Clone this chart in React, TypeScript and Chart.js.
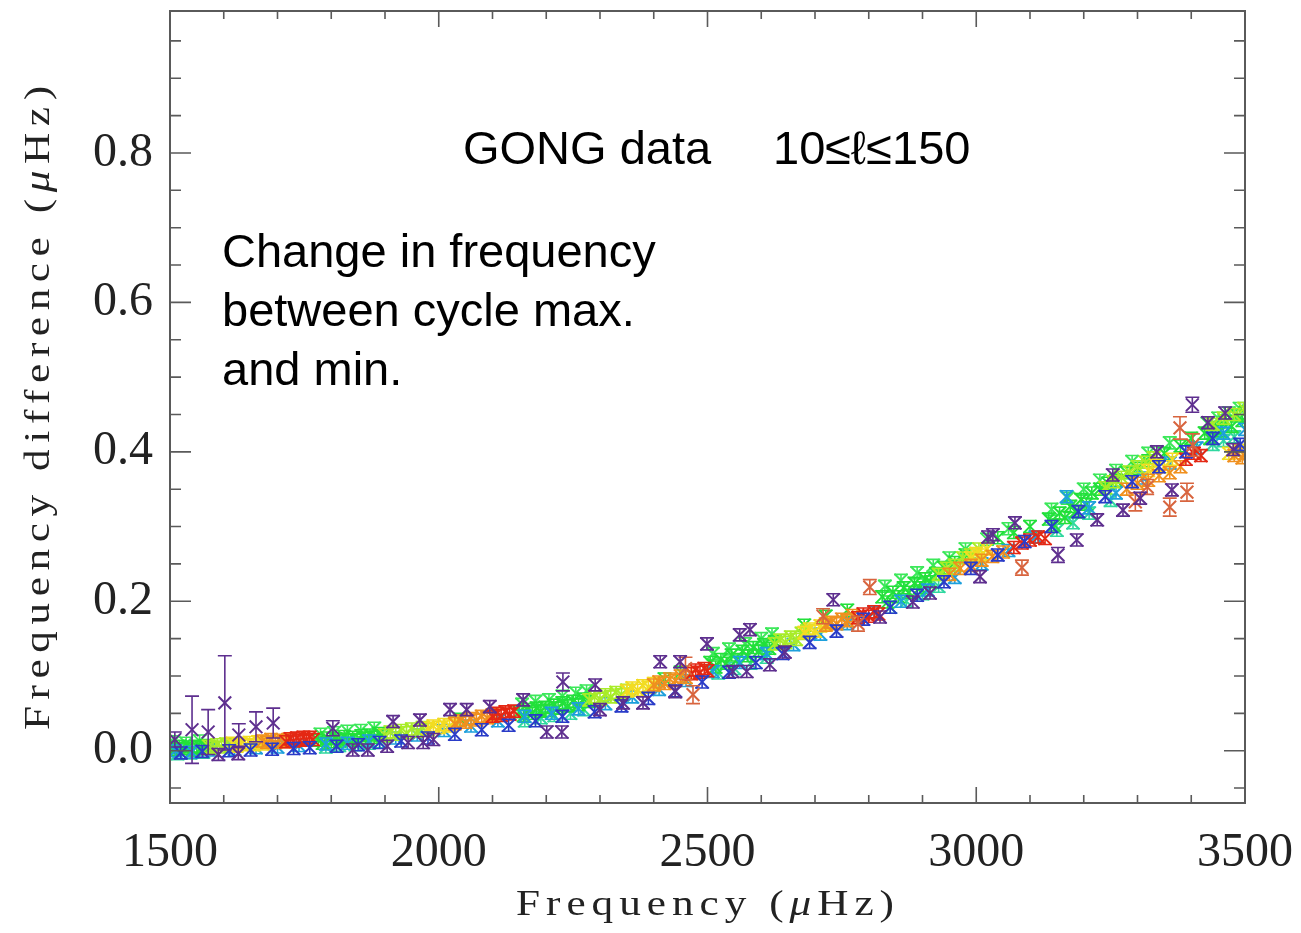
import React, { useEffect, useRef } from "react";
import { Chart, registerables } from "chart.js";
Chart.register(...registerables);

// ---------- axis ticks ----------
const X_MAJOR = [1500, 2000, 2500, 3000, 3500];
const X_MINOR = [1600, 1700, 1800, 1900, 2100, 2200, 2300, 2400, 2600, 2700, 2800, 2900, 3100, 3200, 3300, 3400];
const Y_MAJOR = [0, 0.2, 0.4, 0.6, 0.8];
const Y_MINOR = [-0.05, 0.05, 0.1, 0.15, 0.25, 0.3, 0.35, 0.45, 0.5, 0.55, 0.65, 0.7, 0.75, 0.85, 0.9, 0.95];

// ---------- data (frequency in µHz, frequency difference in µHz) ----------
const GREEN_F = [1502,1510,1518,1526,1534,1542,1550,1558,1566,1574, 1776,1784,1792,1800,1808,1816,1824,1832,1840,1848,1856,1864,1872,1880,1888,1896, 2040, 2150,2158,2166,2174,2182,2190,2198,2206,2214,2222,2230,2240,2250,2260,2270,2280, 2420,2450, 2505,2515,2525,2535,2545,2555,2565,2575,2585,2595,2605,2615,2625, 2680,2720,2760, 2825,2835,2845,2855,2865,2875,2885,2895,2905,2915,2925,2940,2960,2980, 3040,3070,3100, 3135,3145,3155,3165,3175,3185,3195,3205,3215,3230,3245,3260,3280,3300,3320, 3350,3380,3400, 3425,3435,3445,3455,3465,3475,3485,3495,3500];
const GREEN_V = [.004,.002,.006,.003,.005,.001,.006,.004,.007,.003, .014,.010,.017,.012,.016,.013,.019,.015,.018,.014,.020,.017,.021,.018,.023,.020, .042, .052,.047,.055,.050,.057,.053,.058,.054,.061,.057,.064,.060,.066,.062,.069,.066, .096,.105, .118,.112,.122,.117,.128,.122,.133,.127,.138,.133,.142,.137,.146, .168,.180,.188, .206,.199,.212,.206,.218,.212,.224,.218,.230,.226,.237,.245,.252,.262, .285,.292,.300, .310,.302,.318,.312,.327,.320,.336,.330,.345,.350,.358,.362,.372,.378,.388, .398,.408,.418, .425,.418,.432,.428,.440,.434,.448,.442,.452];

const GREEN_HI_F = [1506,1530,1555, 1780,1805,1830,1855,1880, 2155,2180,2205,2230,2255,2275, 2510,2540,2570,2600,2620, 2830,2860,2890,2920,2950,2980,3020,3060, 3140,3170,3200,3230,3260,3290,3320,3360, 3430,3450,3470,3490];
const GREEN_HI_V = [.012,.010,.013, .022,.024,.026,.027,.030, .062,.066,.068,.073,.077,.080, .130,.136,.143,.150,.156, .220,.228,.238,.248,.258,.270,.283,.297, .323,.338,.350,.362,.375,.387,.398,.412, .438,.445,.452,.458];

const GREEN_LO_F = [1514,1538,1562, 1790,1815,1845,1870,1890, 2160,2190,2215,2245,2270, 2520,2550,2580,2610, 2840,2870,2900,2930, 3150,3180,3210,3250, 3440,3460,3480];
const GREEN_LO_V = [-.004,-.003,-.002, .005,.007,.008,.010,.012, .040,.044,.047,.050,.055, .104,.110,.117,.125, .192,.200,.210,.220, .295,.305,.318,.335, .410,.415,.420];

const LIME_F = [1572,1580,1588,1596,1604,1612,1620, 1900,1910,1920,1930,1940,1950,1960,1970,1980, 2280,2290,2300,2310,2320,2330,2340,2350, 2625,2635,2645,2655,2665,2675,2685, 2930,2945,2960,2975,2990,3005, 3240,3255,3270,3285,3300,3315,3330, 3440,3460,3480,3498];
const LIME_V = [.006,.004,.008,.005,.009,.006,.008, .021,.025,.022,.027,.024,.029,.026,.031,.028, .068,.072,.069,.075,.072,.078,.075,.081, .143,.148,.145,.152,.149,.157,.160, .236,.244,.248,.258,.262,.270, .352,.360,.366,.373,.380,.386,.392, .437,.445,.450,.458];

const YELLOW_F = [1616,1624,1632,1640,1648,1656,1664,1672,1680, 1980,1990,2000,2010,2020,2030, 2350,2360,2370,2380,2390,2400, 2680,2690,2700,2710,2720, 2990,3000,3010,3020, 3320,3335,3350,3365, 3470,3490];
const YELLOW_V = [.010,.006,.009,.008,.011,.008,.012,.009,.012, .030,.033,.031,.035,.033,.038, .080,.084,.081,.087,.085,.090, .158,.163,.160,.167,.170, .258,.264,.262,.270, .375,.382,.380,.390, .398,.402];

const ORANGE_F = [1672,1680,1688,1696,1704,1712,1720, 2030,2040,2050,2060,2070,2080,2090,2100, 2400,2410,2420,2430,2440,2450,2460,2470, 2720,2730,2740,2750,2760,2770,2780, 2950,2970,2990,3010,3030,3050, 3280,3300,3320,3340,3360,3380, 3480,3495,3500];
const ORANGE_V = [.013,.011,.015,.011,.014,.012,.015, .036,.040,.038,.043,.041,.046,.044,.048, .088,.092,.090,.096,.094,.100,.098,.104, .168,.172,.170,.176,.174,.181,.178, .236,.244,.248,.255,.260,.266, .350,.358,.362,.368,.372,.380, .395,.392,.398];

const RED_F = [1716,1724,1730,1736,1742,1748,1754,1760,1766, 2100,2108,2116,2124,2132,2140, 2470,2478,2486,2494,2500, 2780,2790,2800,2810,2818, 3070,3085,3100,3115,3128, 3390,3405,3418];
const RED_V = [.012,.016,.013,.017,.014,.018,.015,.018,.015, .046,.050,.047,.052,.049,.053, .103,.108,.105,.110,.107, .178,.183,.180,.186,.183, .272,.278,.282,.286,.284, .390,.398,.395];

const CYAN_F = [1510,1540,1580,1620,1660,1700,1740,1790,1830,1870,1920,1960,2010,2060,2110,2160,2210,2260,2310,2360,2410,2460,2510,2560,2610,2660,2710,2760,2810,2860,2910,2960,3010,3060,3110,3168,3210,3260,3310,3360,3410,3460,3500];
const CYAN_V = [.000,-.002,.001,.002,.004,.005,.007,.009,.010,.013,.017,.021,.027,.033,.040,.046,.050,.056,.063,.072,.082,.094,.106,.118,.130,.142,.156,.170,.185,.200,.215,.232,.250,.268,.286,.340,.325,.345,.365,.385,.405,.425,.430];

const BLUE_F = [1520,1560,1610,1650,1690,1730,1760,1810,1850,1890,1930,1980,2030,2080,2130,2180,2230,2290,2340,2390,2440,2490,2540,2590,2640,2690,2740,2790,2840,2890,2940,2990,3040,3090,3140,3190,3240,3290,3340,3390,3440,3491];
const BLUE_V = [-.003,-.001,.000,.001,.002,.003,.004,.006,.008,.011,.013,.017,.022,.028,.034,.040,.046,.052,.060,.070,.080,.092,.105,.118,.130,.145,.160,.176,.192,.208,.226,.244,.262,.280,.300,.320,.340,.360,.380,.400,.418,.410];

const PURPLE_F = [1509,1541,1571,1590,1602,1627,1628,1660,1692,1803,1840,1868,1904,1915,1943,1965,1971,1990,2021,2052,2095,2157,2201,2229,2231,2291,2300,2343,2380,2412,2440,2449,2499,2547,2560,2573,2579,2616,2644,2734,2821,2882,2914,3007,3022,3031,3072,3152,3187,3225,3254,3273,3305,3336,3364,3402,3431,3463,3478];
const PURPLE_V = [.015,.028,.025,-.005,.064,-.004,.021,.032,.037,.030,.001,.001,.006,.039,.011,.041,.011,.015,.055,.055,.059,.068,.025,.025,.092,.088,.055,.064,.064,.119,.079,.119,.143,.106,.155,.106,.162,.115,.132,.202,.179,.199,.211,.233,.286,.289,.305,.262,.282,.309,.369,.322,.338,.400,.349,.463,.439,.452,.403];
const PURPLE_E = [.010,.045,.030,.008,.063,.008,.015,.020,.020,.010,.008,.008,.008,.008,.008,.008,.008,.008,.008,.008,.008,.008,.008,.008,.012,.008,.008,.008,.008,.008,.008,.008,.008,.008,.008,.008,.008,.008,.008,.008,.008,.008,.008,.008,.008,.008,.008,.010,.008,.008,.008,.008,.008,.008,.008,.010,.008,.008,.008];

const BROWN_F = [2459,2473,2715,2780,2802,3085,3296,3318,3360,3379,3392,3403];
const BROWN_V = [.110,.075,.180,.170,.219,.245,.333,.353,.326,.432,.346,.409];
const BROWN_E = [.015,.012,.010,.010,.010,.010,.012,.010,.012,.015,.012,.015];

const BAND_ERR = 0.008;

const zip = (f: number[], v: number[]) =>
  f.slice(0, Math.min(f.length, v.length)).map((x, i) => ({ x, y: v[i] }));

const errorBarPlugin = {
  id: "errorBars",
  beforeDatasetDraw(chart: any, args: any) {
    const ds = chart.data.datasets[args.index];
    const errs = ds.errors;
    if (errs == null) return;
    const ys = chart.scales.y;
    const a = chart.chartArea;
    const ctx = chart.ctx;
    ctx.save();
    ctx.beginPath();
    ctx.rect(a.left, a.top, a.right - a.left, a.bottom - a.top);
    ctx.clip();
    ctx.strokeStyle = ds.borderColor;
    ctx.lineWidth = 1.6;
    const cap = 7;
    args.meta.data.forEach((el: any, i: number) => {
      const e = typeof errs === "number" ? errs : errs[i];
      if (e == null) return;
      const d = ds.data[i];
      const x = el.x;
      const y1 = ys.getPixelForValue(d.y + e);
      const y2 = ys.getPixelForValue(d.y - e);
      ctx.beginPath();
      ctx.moveTo(x, y1); ctx.lineTo(x, y2);
      ctx.moveTo(x - cap, y1); ctx.lineTo(x + cap, y1);
      ctx.moveTo(x - cap, y2); ctx.lineTo(x + cap, y2);
      ctx.stroke();
    });
    ctx.restore();
  },
};

const framePlugin = {
  id: "frame",
  afterDraw(chart: any) {
    const ctx = chart.ctx;
    const { left, right, top, bottom } = chart.chartArea;
    const xs = chart.scales.x, ys = chart.scales.y;
    ctx.save();
    ctx.strokeStyle = "#5a5a5a";
    ctx.lineWidth = 2;
    ctx.strokeRect(left, top, right - left, bottom - top);
    ctx.lineWidth = 1.6;
    ctx.beginPath();
    const xt = (v: number, len: number) => {
      const p = xs.getPixelForValue(v);
      ctx.moveTo(p, bottom); ctx.lineTo(p, bottom - len);
      ctx.moveTo(p, top); ctx.lineTo(p, top + len);
    };
    const yt = (v: number, len: number) => {
      const p = ys.getPixelForValue(v);
      ctx.moveTo(left, p); ctx.lineTo(left + len, p);
      ctx.moveTo(right, p); ctx.lineTo(right - len, p);
    };
    X_MAJOR.forEach((v) => xt(v, 16));
    X_MINOR.forEach((v) => xt(v, 8));
    Y_MAJOR.forEach((v) => yt(v, 21));
    Y_MINOR.forEach((v) => yt(v, 11));
    ctx.stroke();
    ctx.restore();
  },
};

type Part = { t: string; italic?: boolean };
function drawSpaced(ctx: CanvasRenderingContext2D, parts: Part[], size: number, spacing: number, sx: number) {
  const font = (it?: boolean) => `${it ? "italic " : ""}${size}px "Liberation Serif", serif`;
  (ctx as any).letterSpacing = `${spacing}px`;
  const widths = parts.map((p) => { ctx.font = font(p.italic); return ctx.measureText(p.t).width; });
  const total = widths.reduce((s, w) => s + w, 0) - spacing;
  ctx.scale(sx, 1);
  let x = -total / 2;
  ctx.textAlign = "left";
  ctx.textBaseline = "middle";
  parts.forEach((p, i) => { ctx.font = font(p.italic); ctx.fillText(p.t, x, 0); x += widths[i]; });
}

const textPlugin = {
  id: "texts",
  afterDraw(chart: any) {
    const ctx = chart.ctx;
    ctx.save();
    ctx.fillStyle = "#222";
    ctx.save();
    ctx.translate(705, 906);
    drawSpaced(ctx, [{ t: "Frequency (" }, { t: "μ", italic: true }, { t: "Hz)" }], 36, 5, 1.2);
    ctx.restore();
    ctx.save();
    ctx.translate(40, 408);
    ctx.rotate(-Math.PI / 2);
    drawSpaced(ctx, [{ t: "Frequency difference (" }, { t: "μ", italic: true }, { t: "Hz)" }], 36, 5.5, 1.2);
    ctx.restore();
    (ctx as any).letterSpacing = "0px";
    ctx.fillStyle = "#000";
    ctx.font = '47px "Liberation Sans", Arial, sans-serif';
    ctx.textAlign = "left";
    ctx.textBaseline = "alphabetic";
    ctx.fillText("GONG data", 463, 164);
    ctx.fillText("10≤ℓ≤150", 773, 164);
    ctx.fillText("Change in frequency", 222, 267);
    ctx.fillText("between cycle max.", 222, 326);
    ctx.fillText("and min.", 222, 385);
    ctx.restore();
  },
};

function ds(label: string, f: number[], v: number[], color: string, errors: number | number[]) {
  return {
    label,
    data: zip(f, v),
    borderColor: color,
    backgroundColor: color,
    pointStyle: "crossRot",
    pointRadius: 9,
    pointBorderWidth: 2,
    pointHoverRadius: 9,
    showLine: false,
    errors,
  } as any;
}

export default function App() {
  const ref = useRef<HTMLCanvasElement | null>(null);
  useEffect(() => {
    if (!ref.current) return;
    const chart = new Chart(ref.current, {
      type: "scatter",
      data: {
        datasets: [
          ds("purple", PURPLE_F, PURPLE_V, "#5e2f8f", PURPLE_E),
          ds("brown", BROWN_F, BROWN_V, "#d8643e", BROWN_E),
          ds("blue", BLUE_F, BLUE_V, "#2a3cc8", BAND_ERR),
          ds("red", RED_F, RED_V, "#e42814", BAND_ERR),
          ds("orange", ORANGE_F, ORANGE_V, "#f0901e", BAND_ERR),
          ds("yellow", YELLOW_F, YELLOW_V, "#f2dc22", BAND_ERR),
          ds("lime", LIME_F, LIME_V, "#a8ec28", BAND_ERR),
          ds("cyan", CYAN_F, CYAN_V, "#1ea0dc", BAND_ERR),
          ds("green", GREEN_F, GREEN_V, "#22e03a", BAND_ERR),
          ds("green-hi", GREEN_HI_F, GREEN_HI_V, "#3ce85a", BAND_ERR),
          ds("green-lo", GREEN_LO_F, GREEN_LO_V, "#30d8a0", BAND_ERR),
        ],
      },
      options: {
        animation: false,
        responsive: false,
        devicePixelRatio: 1,
        layout: { padding: { top: 10, right: 56, bottom: 0, left: 0 } },
        plugins: { legend: { display: false }, tooltip: { enabled: false }, title: { display: false } },
        scales: {
          x: {
            type: "linear",
            min: 1500,
            max: 3500,
            afterBuildTicks: (s: any) => { s.ticks = X_MAJOR.map((value) => ({ value })); },
            afterFit: (s: any) => { s.height = 130; s.paddingLeft = 0; s.paddingRight = 0; },
            grid: { display: false, drawTicks: false },
            border: { display: false },
            ticks: {
              color: "#222",
              padding: 22,
              maxRotation: 0,
              font: { family: '"Liberation Serif", serif', size: 48 },
              callback: (v: any) => String(v),
            },
          },
          y: {
            type: "linear",
            min: -0.07,
            max: 0.99,
            afterBuildTicks: (s: any) => { s.ticks = Y_MAJOR.map((value) => ({ value })); },
            afterFit: (s: any) => { s.width = 170; s.paddingTop = 0; s.paddingBottom = 0; },
            grid: { display: false, drawTicks: false },
            border: { display: false },
            ticks: {
              color: "#222",
              padding: 17,
              font: { family: '"Liberation Serif", serif', size: 48 },
              callback: (v: any) => Number(v).toFixed(1),
            },
          },
        },
      },
      plugins: [errorBarPlugin, framePlugin, textPlugin],
    } as any);
    return () => chart.destroy();
  }, []);
  return (
    <div style={{ position: "fixed", left: 0, top: 0, width: 1301, height: 933, background: "#fff" }}>
      <canvas ref={ref} width={1301} height={933} style={{ display: "block" }} />
    </div>
  );
}
